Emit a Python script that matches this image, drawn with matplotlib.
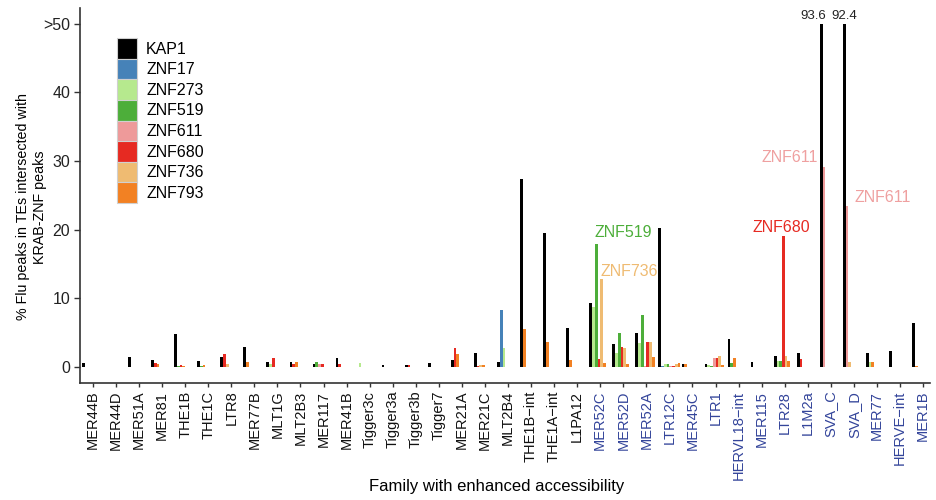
import numpy as np
import matplotlib.pyplot as plt
from matplotlib.patches import Patch

plt.rcParams["font.family"] = ["Liberation Sans", "DejaVu Sans"]

families = [
    "MER44B", "MER44D", "MER51A", "MER81", "THE1B", "THE1C", "LTR8", "MER77B",
    "MLT1G", "MLT2B3", "MER117", "MER41B", "Tigger3c", "Tigger3a", "Tigger3b",
    "Tigger7", "MER21A", "MER21C", "MLT2B4", "THE1B\u2212int", "THE1A\u2212int",
    "L1PA12", "MER52C", "MER52D", "MER52A", "LTR12C", "MER45C", "LTR1",
    "HERVL18\u2212int", "MER115", "LTR28", "L1M2a", "SVA_C", "SVA_D", "MER77",
    "HERVE\u2212int", "MER1B",
]
# families from MER52C onwards are written in blue
first_blue = 22

proteins = ["KAP1", "ZNF17", "ZNF273", "ZNF519", "ZNF611", "ZNF680", "ZNF736", "ZNF793"]
colors = ["#000000", "#4682b8", "#b6e98e", "#4dae3a", "#ee9a9a", "#e62a22", "#efbb72", "#f28123"]

n = np.nan
kap1 = [0.6, n, 1.4, 1.0, 4.7, 0.8, 1.4, 2.9, 0.7, 0.7, 0.35, 1.2, n, 0.3, 0.3,
        0.55, 1.0, 2.0, 0.7, 27.3, 19.45, 5.7, 9.25, 3.3, 4.85, 20.25, 0.45, 0.45,
        4.1, 0.73, 1.55, 2.05, 93.6, 92.4, 2.05, 2.3, 6.3]
znf17 = [n] * 18 + [8.25] + [n] * 6 + [0.05] + [n] * 11
znf273 = [n, n, n, n, n, n, n, n, 0.4, n, n, n, 0.6, n, n,
          n, n, n, 2.7, n, n, n, 8.75, 1.95, 3.5, 0.35, n, 0.2,
          n, n, 0.8, n, n, n, 0.7, n, n]
znf519 = [n, n, n, n, 0.1, 0.1, n, n, n, n, 0.7, n, n, n, n,
          n, n, n, n, n, n, n, 17.9, 4.9, 7.6, 0.35, n, 0.15,
          0.6, n, 0.8, n, n, n, n, n, n]
znf611 = [n, n, n, n, n, n, n, n, n, n, 0.35, n, n, n, n,
          n, n, n, n, n, n, n, n, n, 0.1, 0.1, n, 1.2,
          n, n, n, n, 29.15, 23.4, n, n, n]
znf680 = [n, n, n, 0.6, 0.2, n, 1.85, n, 1.3, 0.35, 0.35, 0.35, n, n, 0.3,
          n, 2.7, 0.15, n, n, n, n, 1.1, 2.9, 3.65, 0.1, n, 1.3,
          n, n, 19.05, 1.1, n, n, n, n, n]
znf736 = [n, n, n, n, n, n, 0.45, n, n, n, n, n, n, n, n,
          n, n, 0.2, n, n, n, n, 12.75, 2.7, 3.65, 0.45, n, 1.55,
          n, n, 1.55, n, n, 0.7, n, n, n]
znf793 = [n, n, n, 0.35, 0.1, 0.25, n, 0.7, n, 0.7, n, n, n, n, n,
          n, 1.85, 0.2, n, 5.5, 3.65, 1.0, 0.6, 0.35, 1.35, 0.5, 0.45, 0.2,
          1.2, n, 0.8, n, n, n, 0.7, n, 0.15]
series = [kap1, znf17, znf273, znf519, znf611, znf680, znf736, znf793]

cap = 50
values = np.array(series, dtype=float)
n_slots = int(np.max(np.sum(~np.isnan(values), axis=0)))
group_w = 0.95
slot = group_w / n_slots

fig = plt.figure(figsize=(9.37, 5.0), dpi=100)
ax = fig.add_axes([80 / 937, 1 - 383 / 500, 850 / 937, 375 / 500])

# bars are packed from the left of each family's slot group
bar_x = {}
for i in range(len(families)):
    k = 0
    for j, vals in enumerate(series):
        v = vals[i]
        if np.isnan(v):
            continue
        x = i - group_w / 2 + (k + 0.5) * slot
        ax.bar(x, min(v, cap), width=slot, color=colors[j], linewidth=0)
        bar_x[(i, j)] = x
        k += 1

# values above the cap
for i, dx in [(32, -0.35), (33, 0.0)]:
    ax.text(bar_x[(i, 0)] + dx, cap + 0.3, f"{kap1[i]:.1f}", ha="center", va="bottom",
            fontsize=9.5, color="#222222")

# callouts for the dominant KZFP of some families
x519 = bar_x[(22, 3)] - slot / 2
ax.text(x519, znf519[22] + 1.0, "ZNF519", color="#4dae3a", fontsize=11.5, ha="left", va="baseline")
x736 = bar_x[(22, 6)] - slot / 2
ax.text(x736, znf736[22] + 0.5, "ZNF736", color="#efbb72", fontsize=11.5, ha="left", va="baseline")
ax.text(bar_x[(30, 5)] - 0.08, znf680[30] + 0.55, "ZNF680", color="#e62a22", fontsize=11.5,
        ha="center", va="baseline")
ax.text(bar_x[(32, 4)] - slot / 2 - 0.22, znf611[32] + 0.75, "ZNF611", color="#efa0a0",
        fontsize=11.5, ha="right", va="baseline")
ax.text(bar_x[(33, 4)] + slot / 2 + 0.28, znf611[33] + 0.65, "ZNF611", color="#efa0a0",
        fontsize=11.5, ha="left", va="baseline")

ax.set_xlim(-0.56, len(families) - 0.7)
ax.set_ylim(-2.38, 52.3)
ax.set_yticks([0, 10, 20, 30, 40, 50])
ax.set_yticklabels(["0", "10", "20", "30", "40", ">50"])
ax.set_xticks(range(len(families)))
ax.set_xticklabels(families, rotation=90)

for side in ["top", "right"]:
    ax.spines[side].set_visible(False)
for side in ["left", "bottom"]:
    ax.spines[side].set_color("#333333")
    ax.spines[side].set_linewidth(1.2)
ax.tick_params(axis="both", colors="#333333", width=1.0, pad=2.5)
ax.tick_params(axis="x", length=3.0, labelsize=10.5)
ax.tick_params(axis="y", length=4.5, labelsize=11.5)
for i, lab in enumerate(ax.get_xticklabels()):
    lab.set_color("#111111" if i < first_blue else "#33449a")
for lab in ax.get_yticklabels():
    lab.set_color("#222222")

ax.set_ylabel("% Flu peaks in TEs intersected with\nKRAB-ZNF peaks", fontsize=10.3,
              linespacing=1.25)
ax.yaxis.set_label_coords(-0.039, 0.47)
ax.set_xlabel("Family with enhanced accessibility", fontsize=12)
ax.xaxis.set_label_coords(0.49, -0.255)

handles = [Patch(facecolor=c, edgecolor="#d0d0d0", linewidth=0.8, label=p)
           for p, c in zip(proteins, colors)]
ax.legend(handles=handles, loc="upper left", bbox_to_anchor=(0.044, 0.92), frameon=False,
          fontsize=11.5, handlelength=1.25, handleheight=1.61, labelspacing=0.0,
          handletextpad=0.55, borderaxespad=0, borderpad=0)

fig.savefig("out.png", dpi=100)
